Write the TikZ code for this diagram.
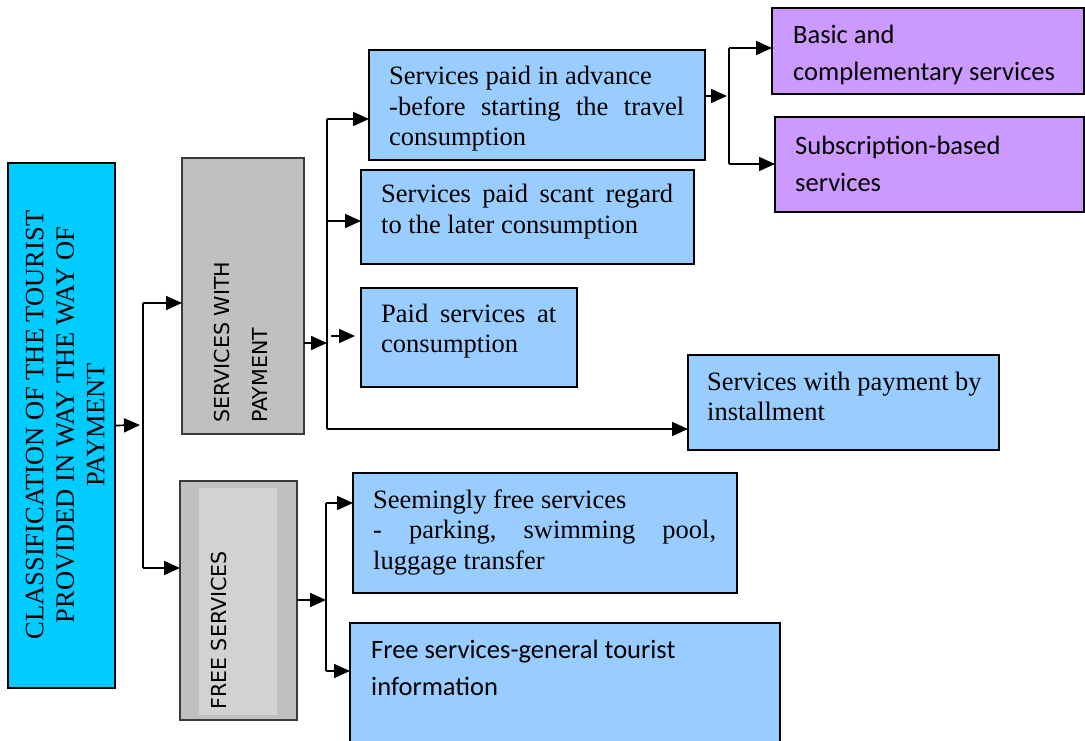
\documentclass[tikz,border=0pt]{standalone}
\usepackage{fontspec}
\setmainfont{Liberation Serif}
\newfontfamily\calibfont{Carlito}
\newfontfamily\labelfont{DejaVu Sans}
\usetikzlibrary{arrows.meta}

\definecolor{cyanbox}{HTML}{00CCFF}
\definecolor{bluebox}{HTML}{99CCFF}
\definecolor{purplebox}{HTML}{CC99FF}
\definecolor{greybox}{HTML}{C0C0C0}
\definecolor{greyinner}{HTML}{D2D2D2}
\definecolor{greyedge}{HTML}{3A3A3A}

% a line whose words are spread over the given width
\newcommand\spreadline[2]{\makebox[#1]{#2}}

\begin{document}
\begin{tikzpicture}[x=1pt,y=-1pt,
  box/.style={draw=black, line width=1.4pt, inner sep=0pt, outer sep=0pt, anchor=north west},
  gbox/.style={draw=greyedge, line width=1.2pt, fill=greybox, inner sep=0pt, outer sep=0pt, anchor=north west},
  serif/.style={font=\fontsize{26.5pt}{30.5pt}\selectfont, inner sep=0pt, align=flush left, anchor=base west},
  calib/.style={font=\calibfont\fontsize{26.5pt}{37pt}\selectfont, inner sep=0pt, align=flush left, anchor=base west},
  glabel/.style={font=\labelfont\fontsize{20.6pt}{38pt}\selectfont, inner sep=0pt, align=flush left, text width=200pt, anchor=base west, rotate=90},
  conn/.style={line width=1.7pt},
  arr/.style={conn, -{Triangle[length=16pt,width=14pt]}}
]
\useasboundingbox (0,0) rectangle (1085,741);

% ---- boxes ----
\node[box, fill=cyanbox, minimum width=107pt, minimum height=525pt] (cls) at (8,163) {};
\node[gbox, minimum width=122pt, minimum height=276pt] (g1) at (182,158) {};
\node[gbox, minimum width=117pt, minimum height=239pt] (g2) at (180,481) {};
\fill[greyinner] (199,488) rectangle (277,715);

\node[box, fill=bluebox, minimum width=336pt, minimum height=110pt] (adv) at (369,50) {};
\node[box, fill=bluebox, minimum width=333pt, minimum height=94pt] (scant) at (361,170) {};
\node[box, fill=bluebox, minimum width=216pt, minimum height=99pt] (paid) at (361,288) {};
\node[box, fill=bluebox, minimum width=311pt, minimum height=95pt] (inst) at (688,355) {};
\node[box, fill=bluebox, minimum width=384pt, minimum height=120pt] (seem) at (353,473) {};
\node[box, fill=bluebox, minimum width=430pt, minimum height=140pt] (gen) at (350,623) {};

\node[box, fill=purplebox, minimum width=312pt, minimum height=86pt] (basic) at (772,8) {};
\node[box, fill=purplebox, minimum width=309pt, minimum height=95pt] (subs) at (775,117) {};

% ---- texts ----
\node[serif, rotate=90, align=flush center, anchor=center] (cls-t) at (65,425)
  {CLASSIFICATION OF THE TOURIST\\PROVIDED IN WAY THE WAY OF\\PAYMENT};
\node[glabel] (g1-t) at (229.5,423) {SERVICES WITH\\PAYMENT};
\node[glabel] (g2-t) at (226.5,710) {FREE SERVICES};

\node[serif, text width=295pt] (adv-t) at (389,85)
  {Services paid in advance\\\spreadline{295pt}{-before\hfill starting\hfill the\hfill travel}\\consumption};
\node[serif, text width=292pt] (scant-t) at (381,203)
  {\spreadline{292pt}{Services\hfill paid\hfill scant\hfill regard}\\to the later consumption};
\node[serif, text width=175pt] (paid-t) at (381,322)
  {\spreadline{175pt}{Paid\hfill services\hfill at}\\consumption};
\node[serif, text width=285pt] (inst-t) at (707,390)
  {Services with payment by\\installment};
\node[serif, text width=343pt] (seem-t) at (373,508)
  {Seemingly free services\\\spreadline{343pt}{-\hfill parking,\hfill swimming\hfill pool,}\\luggage transfer};
\node[calib, text width=400pt] (gen-t) at (371,658)
  {Free services-general tourist\\information};
\node[calib, text width=290pt] (basic-t) at (793,44)
  {Basic and\\complementary services};
\node[calib, text width=290pt] (subs-t) at (795,155)
  {Subscription-based\\services};

% ---- junction points ----
\coordinate (j0) at (143,425);
\coordinate (j0a) at (143,303);
\coordinate (j0b) at (143,568);
\coordinate (j1) at (327,343);
\coordinate (j1a) at (327,119);
\coordinate (j1b) at (327,221);
\coordinate (j1c) at (327,429);
\coordinate (pa) at (331,336);
\coordinate (j2) at (729,96);
\coordinate (j2a) at (729,48);
\coordinate (j2b) at (729,164);
\coordinate (j3) at (326,600);
\coordinate (j3a) at (326,503);
\coordinate (j3b) at (326,671);

% ---- connectors ----
\draw[arr] (cls.east) -- ([xshift=-3pt]j0);
\draw[conn] (j0a) -- (j0b);
\draw[arr] (j0a) -- (g1.west |- j0a);
\draw[arr] (j0b) -- (g2.west |- j0b);

\draw[arr] (g1.east |- j1) -- (j1);
\draw[conn] (j1a) -- (j1c);
\draw[arr] (j1a) -- (adv.west |- j1a);
\draw[arr] (j1b) -- (scant.west |- j1b);
\draw[arr] (pa) -- ([xshift=-6pt]paid.west |- pa);
\draw[arr] (j1c) -- (inst.west |- j1c);

\draw[arr] (adv.east |- j2) -- ([xshift=-2pt]j2);
\draw[conn] (j2a) -- (j2b);
\draw[arr] (j2a) -- (basic.west |- j2a);
\draw[arr] (j2b) -- (subs.west |- j2b);

\draw[arr] (g2.east |- j3) -- (j3);
\draw[conn] (j3a) -- (j3b);
\draw[arr] (j3a) -- (seem.west |- j3a);
\draw[arr] (j3b) -- (gen.west |- j3b);
\end{tikzpicture}
\end{document}
